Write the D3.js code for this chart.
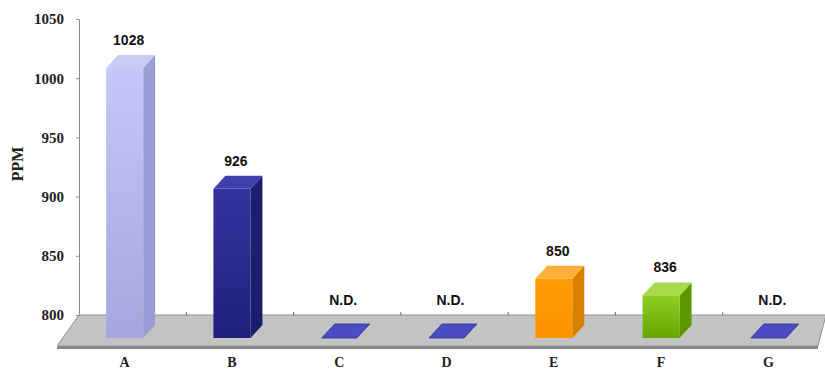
<!DOCTYPE html>
<html>
<head>
<meta charset="utf-8">
<script src="https://cdn.jsdelivr.net/npm/d3@7"></script>
<style>
  html, body { margin: 0; padding: 0; background: #fff; }
  svg { display: block; }
</style>
</head>
<body>
<svg id="chart" width="825" height="372"></svg>
<script>
// Sample concentrations (PPM); null = not detected
const categories = ["A", "B", "C", "D", "E", "F", "G"];
const values = [1028, 926, null, null, 850, 836, null];
const valueLabels = ["1028", "926", "N.D.", "N.D.", "850", "836", "N.D."];
const yTicks = [800, 850, 900, 950, 1000, 1050];
const yDomain = [800, 1050];
const axisTitle = "PPM";

// face colours per category: [frontTop, frontBottom, side, top]
const faceColors = [
  ["#c6c6fa", "#a6a6de", "#9d9dd6", "#cacaf6"],
  ["#33339f", "#20207c", "#1d1d6e", "#4040aa"],
  ["#4b4bc4", "#4b4bc4", "#3a3aa8", "#4b4bc4"],
  ["#4b4bc4", "#4b4bc4", "#3a3aa8", "#4b4bc4"],
  ["#ff9a05", "#ff9400", "#d98000", "#ffb03a"],
  ["#8fce22", "#66a600", "#5e9800", "#a8da4c"],
  ["#4b4bc4", "#4b4bc4", "#3a3aa8", "#4b4bc4"]
];

const svg = d3.select("#chart");

// back wall geometry
const wallLeft = 79, wallRight = 830;
const y = d3.scaleLinear().domain(yDomain).range([315, 19]);
const x = d3.scaleBand().domain(categories).range([wallLeft, wallRight]).padding(0);

// projection of the bar row in front of the back wall
const frontShiftY = 23, frontShiftX = -8;
const depthX = 12, depthY = -13;
const barW = 37, flatW = 35;
const baseY = y(yDomain[0]) + frontShiftY;

// floor slab
const floorBack = y(yDomain[0]);
const floorFront = 346;
svg.append("polygon")
  .attr("points", [[57, floorFront + 3], [818, floorFront + 3], [818, floorFront], [57, floorFront]].map(p => p.join(",")).join(" "))
  .attr("fill", "#8a8a8a");
svg.append("polygon")
  .attr("points", [[wallLeft, floorBack], [826, floorBack], [818, floorFront], [57, floorFront]].map(p => p.join(",")).join(" "))
  .attr("fill", "#c3c3c3")
  .attr("stroke", "#909090")
  .attr("stroke-width", 1);

// category dividers on the back edge of the floor
svg.append("g")
  .selectAll("line")
  .data(categories.slice(1))
  .join("line")
  .attr("x1", d => x(d)).attr("x2", d => x(d))
  .attr("y1", floorBack - 3).attr("y2", floorBack)
  .attr("stroke", "#707070");

// value axis on the back wall
const yAxis = d3.axisLeft(y)
  .tickValues(yTicks)
  .tickFormat(d3.format("d"))
  .tickSize(3)
  .tickSizeOuter(0)
  .tickPadding(12);
const gy = svg.append("g").attr("transform", `translate(${wallLeft},0)`).call(yAxis);
gy.select(".domain").attr("stroke", "#8a8a8a");
gy.selectAll(".tick line").attr("stroke", "#8a8a8a");
gy.selectAll("text")
  .attr("font-family", "'Liberation Serif', 'Times New Roman', serif")
  .attr("font-weight", "bold")
  .attr("font-size", 15)
  .attr("fill", "#222");

svg.append("text")
  .attr("transform", `translate(23,164) rotate(-90)`)
  .attr("text-anchor", "middle")
  .attr("font-family", "'Liberation Serif', 'Times New Roman', serif")
  .attr("font-weight", "bold")
  .attr("font-size", 16)
  .attr("fill", "#222")
  .text(axisTitle);

// gradients for the front faces
const defs = svg.append("defs");
faceColors.forEach((c, i) => {
  const g = defs.append("linearGradient")
    .attr("id", "front" + i)
    .attr("x1", 0).attr("y1", 0).attr("x2", 0).attr("y2", 1);
  g.append("stop").attr("offset", "0%").attr("stop-color", c[0]);
  g.append("stop").attr("offset", "100%").attr("stop-color", c[1]);
});

const rows = categories.map((c, i) => ({ cat: c, value: values[i], label: valueLabels[i], i }));
const cx = d => x(d.cat) + x.bandwidth() / 2 + frontShiftX;
const pts = arr => arr.map(p => p.join(",")).join(" ");

const bars = svg.append("g").selectAll("g").data(rows).join("g");

bars.each(function (d) {
  const g = d3.select(this);
  const col = faceColors[d.i];
  const c = cx(d);
  if (d.value == null) {
    const l = c - flatW / 2, r = c + flatW / 2;
    g.append("polygon")
      .attr("points", pts([[l, baseY], [r, baseY], [r + depthX + 1, baseY + depthY - 1], [l + depthX + 1, baseY + depthY - 1]]))
      .attr("fill", col[0])
      .attr("stroke", "#2e2ea0")
      .attr("stroke-width", 0.8);
    return;
  }
  const top = y(d.value) + frontShiftY;
  const l = c - barW / 2, r = c + barW / 2;
  // side face
  g.append("polygon")
    .attr("points", pts([[r, top], [r + depthX, top + depthY], [r + depthX, baseY + depthY], [r, baseY]]))
    .attr("fill", col[2]);
  // top face
  g.append("polygon")
    .attr("points", pts([[l, top], [r, top], [r + depthX, top + depthY], [l + depthX, top + depthY]]))
    .attr("fill", col[3]);
  // front face
  g.append("rect")
    .attr("x", l).attr("y", top)
    .attr("width", barW).attr("height", baseY - top)
    .attr("fill", `url(#front${d.i})`);
});

// value / N.D. labels
svg.append("g").selectAll("text").data(rows).join("text")
  .attr("x", d => cx(d) + 4)
  .attr("y", d => d.value == null ? y(yDomain[0]) - 10 : y(d.value))
  .attr("text-anchor", "middle")
  .attr("font-family", "'Liberation Sans', Arial, sans-serif")
  .attr("font-weight", "bold")
  .attr("font-size", 14)
  .attr("fill", "#111")
  .text(d => d.label);

// category labels under the floor
svg.append("g").selectAll("text").data(rows).join("text")
  .attr("x", d => cx(d))
  .attr("y", 367)
  .attr("text-anchor", "middle")
  .attr("font-family", "'Liberation Serif', 'Times New Roman', serif")
  .attr("font-weight", "bold")
  .attr("font-size", 14)
  .attr("fill", "#222")
  .text(d => d.cat);
</script>
</body>
</html>
